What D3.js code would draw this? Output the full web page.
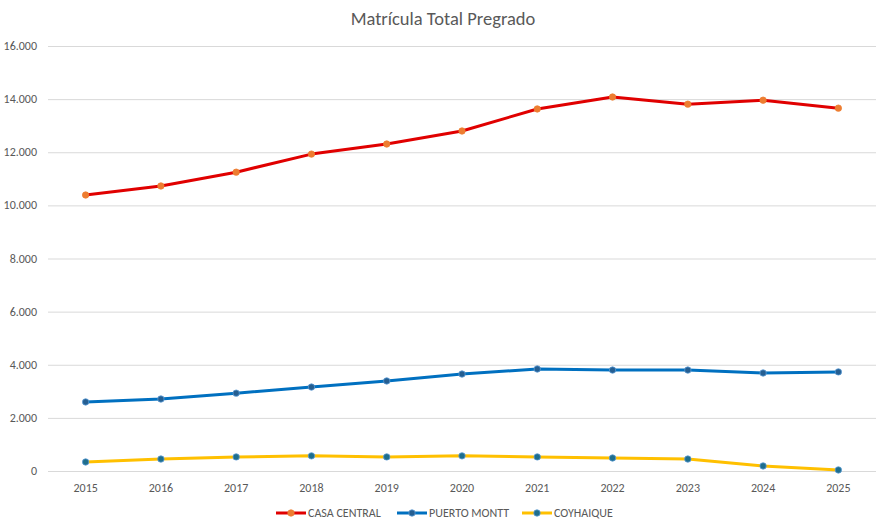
<!DOCTYPE html>
<html>
<head>
<meta charset="utf-8">
<script src="https://cdn.jsdelivr.net/npm/d3@7"></script>
<style>
  body { margin: 0; background: #fff; }
  text { font-family: Carlito, Calibri, "Open Sans", sans-serif; }
</style>
</head>
<body>
<svg id="chart" width="891" height="530"></svg>
<script>
var years = [2015, 2016, 2017, 2018, 2019, 2020, 2021, 2022, 2023, 2024, 2025];
var casaCentral = [10390, 10730, 11250, 11930, 12310, 12800, 13630, 14080, 13810, 13960, 13660];
var puertoMontt = [2600, 2710, 2930, 3160, 3390, 3650, 3840, 3800, 3800, 3690, 3730];
var coyhaique = [340, 450, 530, 570, 530, 570, 530, 490, 450, 190, 40];
var seriesNames = ["CASA CENTRAL", "PUERTO MONTT", "COYHAIQUE"];
var yTicks = [0, 2000, 4000, 6000, 8000, 10000, 12000, 14000, 16000];

var series = [
  { name: seriesNames[0], values: casaCentral, line: "#e00000", dot: "#ed7d31", stroke: "#ed7d31" },
  { name: seriesNames[1], values: puertoMontt, line: "#0070c0", dot: "#255e91", stroke: "#5b9bd5" },
  { name: seriesNames[2], values: coyhaique, line: "#ffc000", dot: "#1f6e8c", stroke: "#5b9bd5" },
];

var svg = d3.select("#chart");
var plotLeft = 48, plotRight = 876, plotTop = 46, plotBottom = 471;

var x = d3.scalePoint().domain(years).range([plotLeft, plotRight]).padding(0.5);
var y = d3.scaleLinear().domain([0, 16000]).range([plotBottom, plotTop]);

// fmt: 16.000 style thousands
var fmt = function (v) {
  return v === 0 ? "0" : d3.format(",")(v).replace(/,/g, ".");
};

svg.append("text")
  .attr("x", 443)
  .attr("y", 25)
  .attr("text-anchor", "middle")
  .style("font-size", "18.5px")
  .style("fill", "#595959")
  .text("Matrícula Total Pregrado");

var grid = svg.append("g");
grid.selectAll("line")
  .data(yTicks)
  .enter()
  .append("line")
  .attr("x1", plotLeft)
  .attr("x2", plotRight)
  .attr("y1", function (d) { return y(d) + 0.5; })
  .attr("y2", function (d) { return y(d) + 0.5; })
  .style("stroke", "#d9d9d9")
  .style("stroke-width", 1);

grid.selectAll("text")
  .data(yTicks)
  .enter()
  .append("text")
  .attr("x", 37)
  .attr("y", function (d) { return y(d) + 4; })
  .attr("text-anchor", "end")
  .style("font-size", "12px")
  .style("fill", "#595959")
  .text(fmt);

svg.append("g")
  .selectAll("text")
  .data(years)
  .enter()
  .append("text")
  .attr("x", function (d) { return x(d); })
  .attr("y", 492)
  .attr("text-anchor", "middle")
  .style("font-size", "12px")
  .style("fill", "#595959")
  .text(function (d) { return d; });

var line = d3.line()
  .x(function (d, i) { return x(years[i]); })
  .y(function (d) { return y(d); });

series.forEach(function (s) {
  var g = svg.append("g");
  g.append("path")
    .datum(s.values)
    .attr("d", line)
    .style("fill", "none")
    .style("stroke", s.line)
    .style("stroke-width", 3)
    .style("stroke-linejoin", "round");
  g.selectAll("circle")
    .data(s.values)
    .enter()
    .append("circle")
    .attr("cx", function (d, i) { return x(years[i]); })
    .attr("cy", function (d) { return y(d); })
    .attr("r", 3.2)
    .style("fill", s.dot)
    .style("stroke", s.stroke)
    .style("stroke-width", 0.8);
});

// legend
var legendX = [276, 397, 522];
var legend = svg.append("g")
  .selectAll("g")
  .data(series)
  .enter()
  .append("g")
  .attr("transform", function (d, i) { return "translate(" + legendX[i] + ",513)"; });

legend.append("line")
  .attr("x1", 0)
  .attr("x2", 30)
  .style("stroke", function (d) { return d.line; })
  .style("stroke-width", 3);
legend.append("circle")
  .attr("cx", 15)
  .attr("r", 3.2)
  .style("fill", function (d) { return d.dot; })
  .style("stroke", function (d) { return d.stroke; })
  .style("stroke-width", 0.8);
legend.append("text")
  .attr("x", 32)
  .attr("y", 4)
  .style("font-size", "12px")
  .style("fill", "#595959")
  .text(function (d) { return d.name; });
</script>
</body>
</html>
